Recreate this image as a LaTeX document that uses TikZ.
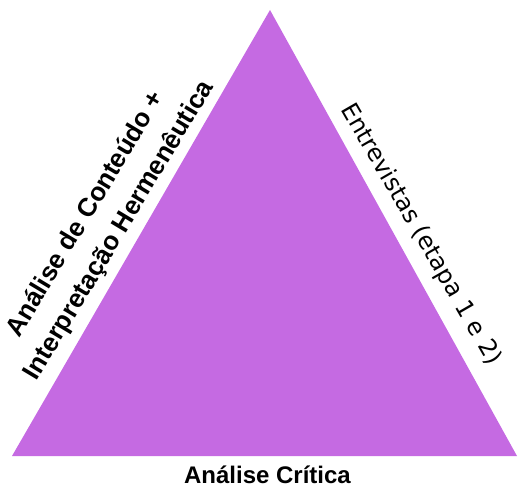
\documentclass[tikz,border=0pt]{standalone}
\usepackage{fontspec}
\setmainfont{Liberation Sans}
\newfontfamily\dejavu{DejaVu Sans}
\definecolor{tripurple}{HTML}{C56AE2}
\begin{document}
\begin{tikzpicture}[x=1pt,y=1pt,
  boldlbl/.style={font=\fontsize{26}{31}\selectfont\bfseries, inner sep=0pt, anchor=base},
  reglbl/.style={font=\dejavu\fontsize{24}{29}\selectfont, inner sep=0pt, anchor=base}]
\useasboundingbox (0,0) rectangle (518,490);
\coordinate (apex) at (270,480);
\coordinate (bl) at (12,34);
\coordinate (br) at (517,34);
\fill[tripurple] (apex) -- (bl) -- (br) -- cycle;
\node[boldlbl, rotate=59] (l1) at (92,272) {Análise de Conteúdo +};
\node[boldlbl, rotate=59] (l2) at (125.5,256) {Interpretação Hermenêutica};
\node[reglbl, rotate=-60] (r1) at (415,252) {Entrevistas (etapa 1 e 2)};
\node[boldlbl, font=\fontsize{24}{29}\selectfont\bfseries] (b1) at (267.5,7) {Análise Crítica};
\end{tikzpicture}
\end{document}
